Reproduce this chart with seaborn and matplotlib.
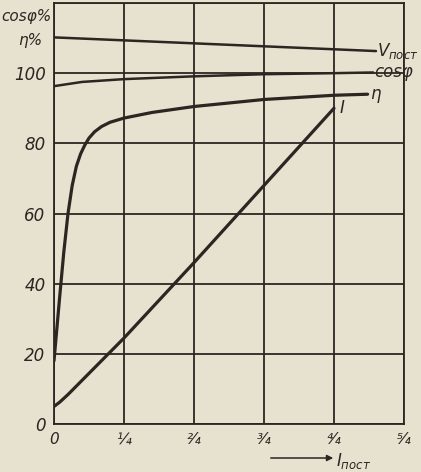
import numpy as np
import pandas as pd
import matplotlib
matplotlib.use("Agg")
import matplotlib.pyplot as plt
import seaborn as sns

# values (x in units of I_nom, y in %)
v_x = [0.0, 1.15]
v_y = [110.2, 106.3]
cos_x = [0.0, 0.1, 0.25, 0.5, 0.75, 1.0, 1.14]
cos_y = [96.3, 97.5, 98.3, 99.1, 99.7, 100.0, 100.2]
eta_x = [0.0, 0.01, 0.02, 0.035, 0.05, 0.065, 0.08, 0.095, 0.11, 0.125, 0.145,
         0.17, 0.2, 0.25, 0.35, 0.5, 0.75, 1.0, 1.12]
eta_y = [18, 27, 36, 49, 60, 68, 73.5, 77, 79.5, 81.5, 83.3,
         84.8, 86, 87.2, 88.8, 90.5, 92.5, 93.7, 94.0]
i_x = [0.0, 0.02, 0.05, 0.25, 0.5, 0.75, 1.0]
i_y = [5, 6.2, 8.4, 24.5, 46, 68, 90]

x_ticks = [0, 0.25, 0.5, 0.75, 1.0, 1.25]
x_labels = ["0", "¼", "²⁄₄", "³⁄₄", "⁴⁄₄", "⁵⁄₄"]
y_ticks = [0, 20, 40, 60, 80, 100]

paper = "#e6e2cf"
ink = "#2b2622"

sns.set_style("white", {"axes.facecolor": paper, "figure.facecolor": paper})
plt.rcParams["font.family"] = ["DejaVu Sans"]
plt.rcParams["mathtext.fontset"] = "dejavusans"

fig = plt.figure(figsize=(4.21, 4.72), dpi=100)
ax = fig.add_axes([54 / 421, 1 - 424 / 472, 350 / 421, 421 / 472])

for xv in x_ticks:
    ax.axvline(xv, color=ink, lw=1.3, zorder=1)
for yv in y_ticks + [120]:
    ax.axhline(yv, color=ink, lw=1.3, zorder=1)

curves = [(v_x, v_y, 1.8), (cos_x, cos_y, 1.8), (eta_x, eta_y, 2.3), (i_x, i_y, 2.3)]
for xs, ys, w in curves:
    df = pd.DataFrame({"x": xs, "y": ys})
    sns.lineplot(data=df, x="x", y="y", ax=ax, color=ink, lw=w, zorder=3)

ax.set_xlim(0, 1.25)
ax.set_ylim(0, 120)
ax.set_xticks(x_ticks)
ax.set_xticklabels(x_labels, fontsize=11, style="italic", color=ink)
ax.set_yticks(y_ticks)
ax.set_yticklabels([str(t) for t in y_ticks], fontsize=12, style="italic", color=ink)
ax.tick_params(length=0, pad=6)
ax.set_xlabel("")
ax.set_ylabel("")
for s in ax.spines.values():
    s.set_color(ink)
    s.set_linewidth(1.3)

# curve labels
ax.text(1.155, 106.3, r"$V_{пост}$", fontsize=12, color=ink, va="center", ha="left")
ax.text(1.145, 100.2, "cosφ", fontsize=12, style="italic", color=ink, va="center", ha="left")
ax.text(1.13, 94.0, "η", fontsize=12, style="italic", color=ink, va="center", ha="left")
ax.text(1.02, 90, "I", fontsize=12, style="italic", color=ink, va="center", ha="left")

# axis titles
fig.text(1 / 421, 1 - 16 / 472, "cosφ%", fontsize=11, style="italic", color=ink, va="center", ha="left")
fig.text(18 / 421, 1 - 41 / 472, "η%", fontsize=11, style="italic", color=ink, va="center", ha="left")
fig.text(336 / 421, 1 - 461 / 472, r"$I_{пост}$", fontsize=12, color=ink, va="center", ha="left")
fig.patches.append(matplotlib.patches.FancyArrowPatch(
    (268 / 421, 1 - 458 / 472), (336 / 421, 1 - 458 / 472),
    transform=fig.transFigure, arrowstyle="-|>", mutation_scale=9, color=ink, lw=1.1))

fig.savefig("out.png", dpi=100, facecolor=paper)
